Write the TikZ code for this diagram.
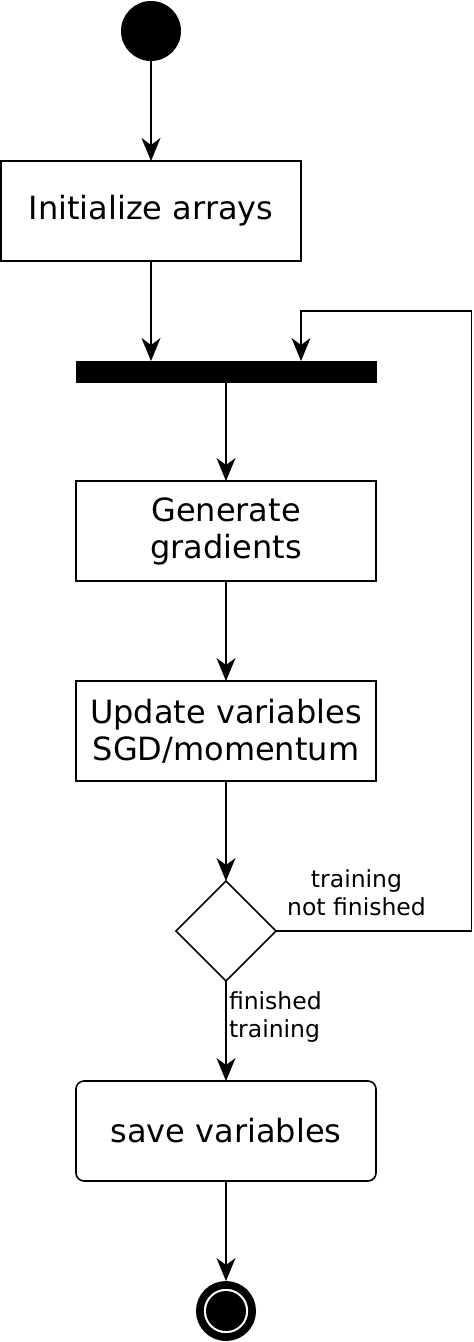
\documentclass[tikz,border=0pt]{standalone}
\usepackage{fontspec}
\setmainfont{DejaVu Sans}
\usetikzlibrary{arrows.meta, positioning, shapes.geometric}

\begin{document}
\begin{tikzpicture}[
    node distance=50pt,
    every node/.style={align=center, outer sep=0pt, font=\fontsize{16}{18.5}\selectfont},
    box/.style={rectangle, draw, line width=0.8pt, minimum height=50pt, minimum width=150pt, inner sep=2pt},
    rbox/.style={box, rounded corners=4pt},
    bar/.style={rectangle, fill=black, minimum height=11pt, minimum width=150.5pt, inner sep=0pt},
    initial/.style={circle, fill=black, minimum size=30pt, inner sep=0pt},
    final/.style={circle, draw, fill=white, line width=3.85pt, minimum size=26.15pt, inner sep=0pt,
        path picture={\fill[black] (path picture bounding box.center) circle (10pt);}},
    choice/.style={diamond, draw, line width=0.8pt, minimum width=50pt, minimum height=50pt, inner sep=0pt},
    lbl/.style={font=\fontsize{11.75}{14}\selectfont, inner sep=0pt},
    arrow/.style={-{Stealth[length=11.5pt, width=9.5pt, inset=3.5pt]}, line width=0.8pt}
]
\useasboundingbox (0,0) rectangle (236.5pt,-671pt);
\node[initial] (0) at (75.5pt,-15.5pt) {};
\node[box, below=of 0] (1) {Initialize arrays};
\node[bar, below=of 1, xshift=37.5pt] (2) {};
\node[box, below=49pt of 2] (3) {Generate\\gradients};
\node[box, below=of 3] (4) {Update variables\\SGD/momentum};
\node[choice, below=of 4] (5) {};
\node[rbox, below=of 5] (6) {save variables};
\node[final, below=of 6, yshift=-1.925pt] (7) {};
\coordinate (loop) at (235.75pt,-155.5pt);
\node[lbl] (n) at ([xshift=65.25pt, yshift=19pt]5.center) {training\\not finished};
\node[lbl, align=left, anchor=west] (f) at ([xshift=1.5pt, yshift=-43pt]5.center) {finished\\training};
\draw[arrow] (0) -- (1);
\draw[arrow] (1) -- (1 |- 2.north);
\draw[arrow] (2) -- (3);
\draw[arrow] (3) -- (4);
\draw[arrow] (4) -- (5);
\draw[arrow] (5) -- (6);
\draw[arrow] (6) -- ([yshift=1.925pt]7.north);
\draw[arrow] (5.east) -| (loop) -| ([xshift=37.5pt]2.north);
\end{tikzpicture}
\end{document}
